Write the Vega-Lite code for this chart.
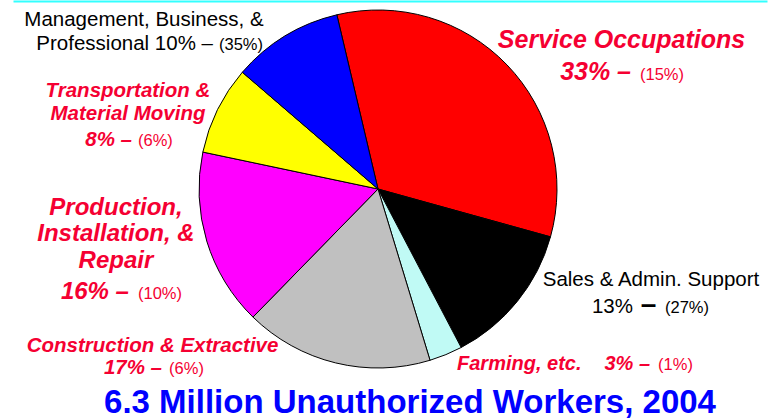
{
  "$schema": "https://vega.github.io/schema/vega-lite/v6.json",
  "autosize": {"type": "none"},
  "width": 756,
  "height": 378,
  "padding": {"left": 0, "top": 0, "right": 25, "bottom": 41},
  "background": "white",
  "title": {
    "text": "6.3 Million Unauthorized Workers, 2004",
    "orient": "bottom",
    "anchor": "middle",
    "frame": "group",
    "baseline": "alphabetic",
    "offset": 35,
    "dx": 32,
    "font": "Liberation Sans",
    "fontSize": 33,
    "fontWeight": "bold",
    "color": "#0000FF"
  },
  "data": {
    "values": [
      {"key": "svc", "order": 1, "value": 33, "name": "Service Occupations", "line2": "33% –", "share": "(15%)", "dash": ""},
      {"key": "sales", "order": 2, "value": 13, "name": "Sales & Admin. Support", "line2": "13%", "share": "(27%)", "dash": "–"},
      {"key": "farm", "order": 3, "value": 3, "name": "Farming, etc.", "line2": "3% –", "share": "(1%)", "dash": ""},
      {"key": "cons", "order": 4, "value": 17, "name": "Construction & Extractive", "line2": "17% –", "share": "(6%)", "dash": ""},
      {"key": "prod", "order": 5, "value": 16, "name": "Production,|Installation, &|Repair", "line2": "16% –", "share": "(10%)", "dash": ""},
      {"key": "trans", "order": 6, "value": 8, "name": "Transportation &|Material Moving", "line2": "8% –", "share": "(6%)", "dash": ""},
      {"key": "mgmt", "order": 7, "value": 10, "name": "Management, Business, &", "line2": "Professional 10% –", "share": "(35%)", "dash": ""}
    ]
  },
  "config": {
    "text": {"font": "Liberation Sans", "baseline": "alphabetic", "lineBreak": "|"},
    "view": {"stroke": null}
  },
  "layer": [
    {
      "mark": {"type": "point", "opacity": 0},
      "encoding": {
        "x": {
          "field": "value", "type": "quantitative",
          "scale": {"range": [13, 767]},
          "axis": {"orient": "top", "domainColor": "#33FFFF", "domainWidth": 2, "offset": -1, "ticks": false, "labels": false, "grid": false, "title": null}
        }
      }
    },
    {
      "transform": [
        {"stack": "value", "groupby": [], "sort": [{"field": "order", "order": "ascending"}], "as": ["t0", "t1"]}
      ],
      "encoding": {
        "theta": {"field": "t0", "type": "quantitative", "scale": {"domain": [0, 100], "range": [-0.232, 6.0512]}}
      },
      "layer": [
        {
          "mark": {"type": "arc", "outerRadius": 179, "stroke": "#000000", "strokeWidth": 1},
          "encoding": {
            "theta2": {"field": "t1"},
            "color": {
              "field": "key", "type": "nominal", "legend": null,
              "scale": {"domain": ["svc", "sales", "farm", "cons", "prod", "trans", "mgmt"],
                        "range": ["#FF0000", "#000000", "#C0FAF5", "#C0C0C0", "#FF00FF", "#FFFF00", "#0000FF"]}
            }
          }
        },
        {"transform": [{"filter": "datum.key == 'svc'"}],
         "layer": [
          {"mark": {"type": "text", "radius": 240, "dx": 298.7, "dy": 92.6, "align": "center", "fontSize": 25, "fontWeight": "bold", "fontStyle": "italic", "fill": "#F50032"},
           "encoding": {"text": {"field": "name"}}},
          {"mark": {"type": "text", "radius": 240, "dx": 308.2, "dy": 124.6, "align": "right", "fontSize": 25, "fontWeight": "bold", "fontStyle": "italic", "fill": "#F50032"},
           "encoding": {"text": {"field": "line2"}}},
          {"mark": {"type": "text", "radius": 240, "dx": 317.2, "dy": 124.6, "align": "left", "fontSize": 16.5, "fill": "#F50032"},
           "encoding": {"text": {"field": "share"}}}
         ]},
        {"transform": [{"filter": "datum.key == 'sales'"}],
         "layer": [
          {"mark": {"type": "text", "radius": 240, "dx": 41.7, "dy": 32.8, "align": "center", "fontSize": 20.5, "fill": "#000000"},
           "encoding": {"text": {"field": "name"}}},
          {"mark": {"type": "text", "radius": 240, "dx": 23.7, "dy": 59.8, "align": "right", "fontSize": 20.5, "fill": "#000000"},
           "encoding": {"text": {"field": "line2"}}},
          {"mark": {"type": "text", "radius": 240, "dx": 39.2, "dy": 59.8, "align": "center", "fontSize": 28, "fontWeight": "bold", "fill": "#000000"},
           "encoding": {"text": {"field": "dash"}}},
          {"mark": {"type": "text", "radius": 240, "dx": 55.7, "dy": 59.8, "align": "left", "fontSize": 16.5, "fill": "#000000"},
           "encoding": {"text": {"field": "share"}}}
         ]},
        {"transform": [{"filter": "datum.key == 'farm'"}],
         "layer": [
          {"mark": {"type": "text", "radius": 240, "dx": -32.5, "dy": -31.5, "align": "left", "fontSize": 20, "fontWeight": "bold", "fontStyle": "italic", "fill": "#F50032"},
           "encoding": {"text": {"field": "name"}}},
          {"mark": {"type": "text", "radius": 240, "dx": 160.5, "dy": -31.5, "align": "right", "fontSize": 20, "fontWeight": "bold", "fontStyle": "italic", "fill": "#F50032"},
           "encoding": {"text": {"field": "line2"}}},
          {"mark": {"type": "text", "radius": 240, "dx": 168.5, "dy": -31.5, "align": "left", "fontSize": 16.5, "fill": "#F50032"},
           "encoding": {"text": {"field": "share"}}}
         ]},
        {"transform": [{"filter": "datum.key == 'cons'"}],
         "layer": [
          {"mark": {"type": "text", "radius": 240, "dx": -295.2, "dy": -66.8, "align": "center", "fontSize": 20.5, "fontWeight": "bold", "fontStyle": "italic", "fill": "#F50032"},
           "encoding": {"text": {"field": "name"}}},
          {"mark": {"type": "text", "radius": 240, "dx": -285.7, "dy": -44.8, "align": "right", "fontSize": 20.5, "fontWeight": "bold", "fontStyle": "italic", "fill": "#F50032"},
           "encoding": {"text": {"field": "line2"}}},
          {"mark": {"type": "text", "radius": 240, "dx": -278.7, "dy": -44.8, "align": "left", "fontSize": 16.5, "fill": "#F50032"},
           "encoding": {"text": {"field": "share"}}}
         ]},
        {"transform": [{"filter": "datum.key == 'prod'"}],
         "layer": [
          {"mark": {"type": "text", "radius": 240, "dx": -94.4, "dy": -145.8, "align": "center", "lineHeight": 26.5, "fontSize": 24, "fontWeight": "bold", "fontStyle": "italic", "fill": "#F50032"},
           "encoding": {"text": {"field": "name"}}},
          {"mark": {"type": "text", "radius": 240, "dx": -81.4, "dy": -61.8, "align": "right", "fontSize": 24, "fontWeight": "bold", "fontStyle": "italic", "fill": "#F50032"},
           "encoding": {"text": {"field": "line2"}}},
          {"mark": {"type": "text", "radius": 240, "dx": -72.4, "dy": -61.8, "align": "left", "fontSize": 16.5, "fill": "#F50032"},
           "encoding": {"text": {"field": "share"}}}
         ]},
        {"transform": [{"filter": "datum.key == 'trans'"}],
         "layer": [
          {"mark": {"type": "text", "radius": 240, "dx": -15.2, "dy": -42.5, "align": "center", "lineHeight": 23, "fontSize": 20.5, "fontWeight": "bold", "fontStyle": "italic", "fill": "#F50032"},
           "encoding": {"text": {"field": "name"}}},
          {"mark": {"type": "text", "radius": 240, "dx": -11.2, "dy": 6.5, "align": "right", "fontSize": 20.5, "fontWeight": "bold", "fontStyle": "italic", "fill": "#F50032"},
           "encoding": {"text": {"field": "line2"}}},
          {"mark": {"type": "text", "radius": 240, "dx": -5.2, "dy": 6.5, "align": "left", "fontSize": 16.5, "fill": "#F50032"},
           "encoding": {"text": {"field": "share"}}}
         ]},
        {"transform": [{"filter": "datum.key == 'mgmt'"}],
         "layer": [
          {"mark": {"type": "text", "radius": 240, "dx": -52.1, "dy": -6.5, "align": "center", "fontSize": 20.5, "fill": "#000000"},
           "encoding": {"text": {"field": "name"}}},
          {"mark": {"type": "text", "radius": 240, "dx": 16.9, "dy": 17.6, "align": "right", "fontSize": 20.5, "fill": "#000000"},
           "encoding": {"text": {"field": "line2"}}},
          {"mark": {"type": "text", "radius": 240, "dx": 22.9, "dy": 17.6, "align": "left", "fontSize": 16.5, "fill": "#000000"},
           "encoding": {"text": {"field": "share"}}}
         ]}
      ]
    }
  ]
}
